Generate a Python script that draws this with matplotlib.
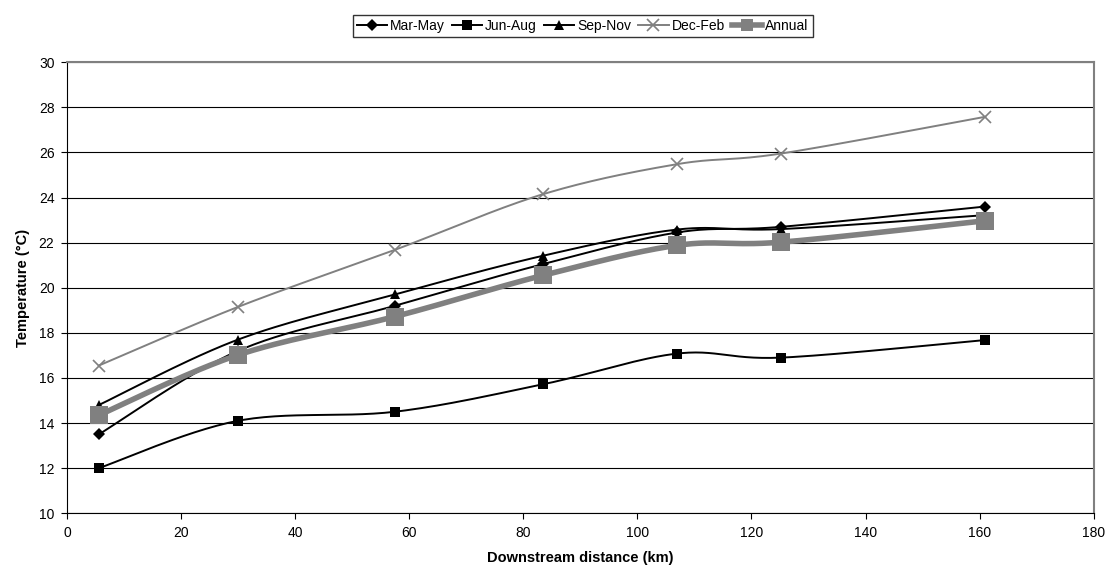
import numpy as np
import matplotlib
matplotlib.use('Agg')
import matplotlib.pyplot as plt

plt.rcParams['font.family'] = ['Liberation Sans', 'DejaVu Sans']

distance = [5.6, 30, 57.5, 83.5, 107, 125.2, 161]
mar_may = [13.5, 17.2, 19.2, 21.05, 22.45, 22.7, 23.6]
jun_aug = [12.0, 14.1, 14.5, 15.72, 17.08, 16.9, 17.68]
sep_nov = [14.8, 17.7, 19.7, 21.42, 22.58, 22.6, 23.22]
dec_feb = [16.55, 19.15, 21.68, 24.15, 25.48, 25.95, 27.58]
annual = [14.35, 17.02, 18.72, 20.55, 21.88, 22.02, 22.97]


# curva suavizada estilo Excel (bezier com tensao 1/6)
def smooth(x, y, n=30):
    p = np.column_stack([x, y]).astype(float)
    out = []
    for i in range(len(p) - 1):
        p0 = p[i - 1] if i > 0 else p[i]
        p3 = p[i + 2] if i + 2 < len(p) else p[i + 1]
        c1 = p[i] + (p[i + 1] - p0) / 6
        c2 = p[i + 1] - (p3 - p[i]) / 6
        t = np.linspace(0, 1, n)[:, None]
        seg = ((1 - t) ** 3 * p[i] + 3 * (1 - t) ** 2 * t * c1
               + 3 * (1 - t) * t ** 2 * c2 + t ** 3 * p[i + 1])
        out.append(seg if i == 0 else seg[1:])
    out = np.vstack(out)
    return out[:, 0], out[:, 1]


fig = plt.figure(figsize=(11.16, 5.76), dpi=100)
ax = fig.add_axes([0.060, 0.109, 0.920, 0.783])

series = [
    ('Mar-May', mar_may, 'black', 'D', 6, 1.4, 'black'),
    ('Jun-Aug', jun_aug, 'black', 's', 7, 1.4, 'black'),
    ('Sep-Nov', sep_nov, 'black', '^', 7, 1.4, 'black'),
    ('Dec-Feb', dec_feb, '#808080', 'x', 8, 1.4, '#808080'),
    ('Annual', annual, '#808080', 's', 13, 4.0, '#808080'),
]
handles = []
for label, y, color, marker, ms, lw, mc in series:
    sx, sy = smooth(distance, y)
    ax.plot(sx, sy, color=color, lw=lw, zorder=3)
    ax.plot(distance, y, ls='none', marker=marker, ms=ms, color=mc,
            mew=1.2 if marker == 'x' else 0, zorder=4)
    h, = ax.plot([], [], color=color, lw=lw, marker=marker,
                 ms=ms if label != 'Annual' else 9,
                 mew=1.2 if marker == 'x' else 0)
    handles.append(h)

ax.set_xlim(0, 180)
ax.set_ylim(10, 30)
ax.set_xticks(range(0, 181, 20))
ax.set_yticks(range(10, 31, 2))
ax.grid(axis='y', color='black', lw=0.8)
ax.set_axisbelow(True)
ax.tick_params(labelsize=10, length=4, width=0.8, direction='out', pad=5)
for s in ['top', 'right']:
    ax.spines[s].set_color('#808080')
    ax.spines[s].set_linewidth(1.5)
for s in ['left', 'bottom']:
    ax.spines[s].set_color('black')
ax.set_xlabel('Downstream distance (km)', fontsize=10.5, fontweight='bold', labelpad=8)
ax.set_ylabel('Temperature (°C)', fontsize=10.5, fontweight='bold', labelpad=6)

fig.legend(handles, [s[0] for s in series], loc='center', bbox_to_anchor=(0.522, 0.955),
           ncol=5, fontsize=10, frameon=True, fancybox=False, edgecolor='black',
           handlelength=2.2, handletextpad=0.2, columnspacing=0.5, borderpad=0.3)

fig.savefig('out.png', dpi=100)
